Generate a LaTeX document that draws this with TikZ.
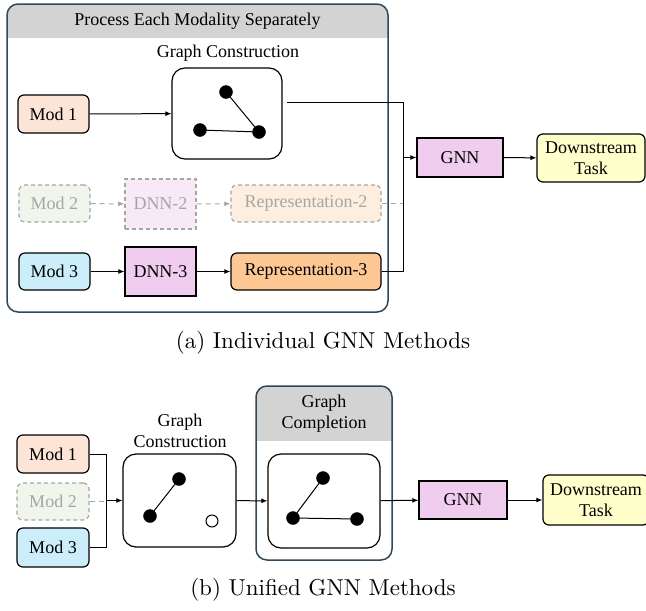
\documentclass[tikz,border=0pt]{standalone}
\usepackage{fontspec}
\newfontfamily\tnr{Liberation Serif}
\newfontfamily\capfont{lmroman10-regular.otf}
\usetikzlibrary{arrows.meta}
\definecolor{frameblue}{HTML}{2F4858}
\definecolor{headgray}{HTML}{D3D3D3}
\definecolor{modone}{HTML}{FCE4D6}
\definecolor{modtwo}{HTML}{F0F6EC}
\definecolor{modthree}{HTML}{CCEEFB}
\definecolor{dnnpink}{HTML}{F0CDEE}
\definecolor{dnnfade}{HTML}{F8E9F6}
\definecolor{reporange}{HTML}{FDC894}
\definecolor{repfade}{HTML}{FDEEDF}
\definecolor{taskyellow}{HTML}{FFFFCC}
\definecolor{fadetext}{HTML}{A6A6A6}
\begin{document}
\begin{tikzpicture}[x=1pt,y=-1pt,
		txt/.style={font=\tnr\fontsize{18}{21}\selectfont},
		box/.style={txt, draw, line width=1.2pt, rounded corners=6pt, inner sep=0pt},
		sqbox/.style={txt, draw, line width=1.2pt, inner sep=0pt},
		fade/.style={draw=fadetext, dashed, dash pattern=on 4pt off 3pt, text=fadetext},
		graphbox/.style={draw, line width=1.2pt, rounded corners=13pt},
		arr/.style={line width=1pt, -{Latex[length=6pt,width=5pt]}},
		con/.style={line width=1pt},
		fadecon/.style={fadetext, line width=1pt, dash pattern=on 5pt off 4pt},
		dot/.style={fill=black, draw=black, circle, inner sep=0pt, minimum size=13pt},
		captxt/.style={font=\capfont\fontsize{23}{27}\selectfont}]
	\useasboundingbox (0,0) rectangle (646,611);
	% (a) individual methods
	\begin{scope}
		\clip[rounded corners=11pt] (7,4) rectangle (388,312);
		\fill[headgray] (7,4) rectangle (388,38);
	\end{scope}
	\draw[frameblue, line width=1.5pt, rounded corners=11pt] (7,4) rectangle (388,312);
	\node[txt] (heada) at (197.5,21) {Process Each Modality Separately};
	\node[txt] (gclabel) at (228,53) {Graph Construction};
	\node[graphbox, minimum width=110pt, minimum height=91pt] (gca) at (227,113.5) {};
	\node[dot] (ga1) at (226,92) {};
	\node[dot] (ga2) at (200,130) {};
	\node[dot] (ga3) at (259,132) {};
	\draw[con] (ga1) -- (ga3) -- (ga2);
	\node[box, fill=modone, minimum width=71pt, minimum height=38pt] (moda1) at (53.5,114) {Mod 1};
	\node[box, fade, fill=modtwo, minimum width=71pt, minimum height=37pt] (moda2) at (54.5,203.5) {Mod 2};
	\node[sqbox, fade, fill=dnnfade, minimum width=71pt, minimum height=50pt] (dnn2) at (160.5,204) {DNN-2};
	\node[box, fade, fill=repfade, minimum width=150pt, minimum height=37pt] (rep2) at (306,203.5) {Representation-2};
	\node[box, fill=modthree, minimum width=71pt, minimum height=37pt] (moda3) at (54.5,271.5) {Mod 3};
	\node[sqbox, fill=dnnpink, minimum width=71pt, minimum height=49pt] (dnn3) at (160.5,271.5) {DNN-3};
	\node[box, fill=reporange, minimum width=150pt, minimum height=37pt] (rep3) at (306,271.5) {Representation-3};
	\node[sqbox, fill=dnnpink, minimum width=86pt, minimum height=39pt] (gnna) at (460,157.5) {GNN};
	\node[box, fill=taskyellow, minimum width=108pt, minimum height=48pt, align=center] (taska) at (591,158) {Downstream\\Task};
	\coordinate (ja) at (403,157.5);
	\coordinate (gcout) at (287,102);
	\draw[arr] (moda1) -- (gca);
	\draw[arr, fadecon] (moda2) -- (dnn2);
	\draw[arr, fadecon] (dnn2) -- (rep2);
	\draw[fadecon] (rep2.east) -- (rep2.east -| ja);
	\draw[arr] (moda3) -- (dnn3);
	\draw[arr] (dnn3) -- (rep3);
	\draw[con] (gcout) -| (ja);
	\draw[con] (rep3.east) -| (ja);
	\draw[arr] (ja) -- (gnna);
	\draw[arr] (gnna) -- (taska);
	\node[captxt] (capa) at (323,343) {(a) Individual GNN Methods};
	% (b) unified methods
	\node[box, fill=modone, minimum width=72pt, minimum height=38pt] (modb1) at (53,454) {Mod 1};
	\node[box, fade, fill=modtwo, minimum width=72pt, minimum height=37pt] (modb2) at (53,501.5) {Mod 2};
	\node[box, fill=modthree, minimum width=72pt, minimum height=39pt] (modb3) at (53,547.5) {Mod 3};
	\coordinate (jb) at (106,500.5);
	\node[graphbox, minimum width=113pt, minimum height=93pt] (gcb) at (179.5,500.5) {};
	\node[txt, align=center] (gcblabel) at (180,431) {Graph\\Construction};
	\node[dot] (gb1) at (179,479) {};
	\node[dot] (gb2) at (150,516) {};
	\node[circle, draw, line width=1pt, fill=white, minimum size=12pt, inner sep=0pt] (gb3) at (212,521) {};
	\draw[con] (gb1) -- (gb2);
	\begin{scope}
		\clip[rounded corners=11pt] (256,386) rectangle (392,560);
		\fill[headgray] (256,386) rectangle (392,441);
	\end{scope}
	\draw[frameblue, line width=1.5pt, rounded corners=11pt] (256,386) rectangle (392,560);
	\node[txt, align=center] (compl) at (324,414) {Graph\\Completion};
	\node[graphbox, minimum width=112pt, minimum height=94pt] (gcc) at (324,501) {};
	\node[dot] (gc1) at (323,478) {};
	\node[dot] (gc2) at (293,518) {};
	\node[dot] (gc3) at (357,519) {};
	\draw[con] (gc1) -- (gc2) -- (gc3);
	\node[sqbox, fill=dnnpink, minimum width=88pt, minimum height=38pt] (gnnb) at (463,500) {GNN};
	\node[box, fill=taskyellow, minimum width=106pt, minimum height=50pt, align=center] (taskb) at (596,500) {Downstream\\Task};
	\draw[con] (modb1.east) -| (jb);
	\draw[con] (modb3.east) -| (jb);
	\draw[fadecon] (modb2.east) -- (modb2.east -| jb);
	\draw[arr] (jb) -- (gcb);
	\draw[arr] (gcb) -- (gcc);
	\draw[arr] (gcc) -- (gnnb);
	\draw[arr] (gnnb) -- (taskb);
	\node[captxt] (capb) at (323,590) {(b) Unified GNN Methods};
\end{tikzpicture}
\end{document}
